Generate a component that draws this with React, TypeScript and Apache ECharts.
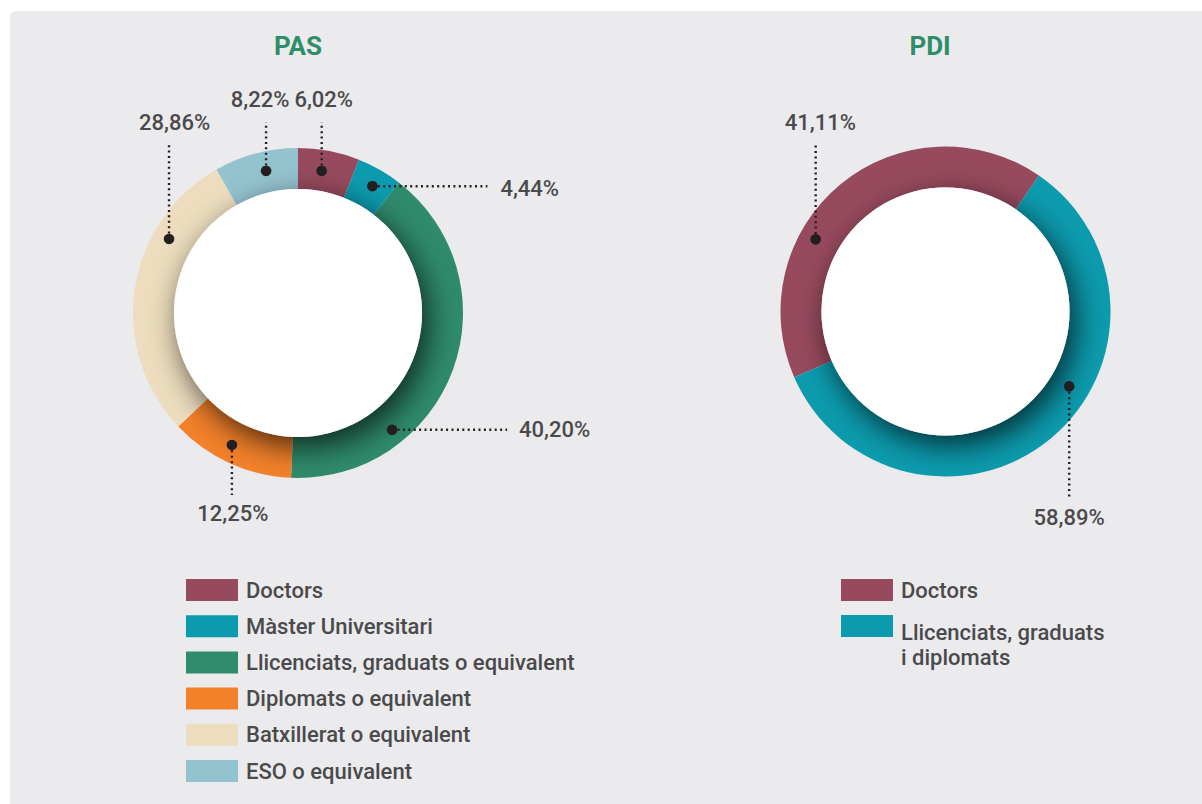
import React, { useEffect, useRef } from 'react';
import * as echarts from 'echarts';

// ---------- data ----------
const pasCategories = [
  'Doctors',
  'Màster Universitari',
  'Llicenciats, graduats o equivalent',
  'Diplomats o equivalent',
  'Batxillerat o equivalent',
  'ESO o equivalent',
];
const pasValues = [6.02, 4.44, 40.2, 12.25, 28.86, 8.22];

const pdiCategories = ['Doctors', 'Llicenciats, graduats i diplomats'];
const pdiValues = [41.11, 58.89];
const pdiLegendLines = ['Llicenciats, graduats', 'i diplomats'];

const titles = ['PAS', 'PDI'];

// ---------- styles ----------
const pasColors = ['#974A5E', '#0C9BAE', '#2F8B6C', '#F3812A', '#EDDDBE', '#94C3D0'];
const pdiColors = ['#974A5E', '#0C9BAE'];
const TEXT = '#4A4A4C';
const GREEN = '#2E8E6A';
const DOT = '#231F20';
const FONT = 'Roboto, "Noto Sans", sans-serif';

type Dir = 'up' | 'down' | 'right';
type Leader = { frac: number; r: number; dir: Dir; len: number; tdx: number; tdy: number };

const pasLeaders: Leader[] = [
  { frac: 0.437, r: 144, dir: 'up', len: 49, tdx: 2, tdy: -22 },
  { frac: 0.546, r: 147, dir: 'right', len: 115, tdx: 13, tdy: 2 },
  { frac: 0.715, r: 150, dir: 'right', len: 115, tdx: 12, tdy: 0 },
  { frac: 0.549, r: 147.6, dir: 'down', len: 50, tdx: 1, tdy: 19 },
  { frac: 0.706, r: 148.7, dir: 'up', len: 94, tdx: 5.5, tdy: -22 },
  { frac: 0.572, r: 145.6, dir: 'up', len: 49, tdx: -6, tdy: -22 },
];
const pdiLeaders: Leader[] = [
  { frac: 0.355, r: 148.5, dir: 'up', len: 94, tdx: 4.6, tdy: -22.6 },
  { frac: 0.409, r: 144.6, dir: 'down', len: 113, tdx: 0, tdy: 18 },
];

const PAS_CENTER: [number, number] = [298, 313];
const PDI_CENTER: [number, number] = [945.5, 311.5];
const RADIUS: [number, number] = [124, 165];
const PAS_START = 90;
const PDI_START = 203.5;

const fmt = (v: number) => v.toFixed(2).replace('.', ',') + '%';

function leaderGraphics(
  values: number[],
  leaders: Leader[],
  center: [number, number],
  startAngle: number
) {
  const total = values.reduce((a, b) => a + b, 0);
  const theta0 = 90 - startAngle; // clockwise from top
  const out: any[] = [];
  let acc = 0;
  values.forEach((v, i) => {
    const span = (v / total) * 360;
    const L = leaders[i];
    const th = ((theta0 + acc + L.frac * span) * Math.PI) / 180;
    acc += span;
    const x = center[0] + L.r * Math.sin(th);
    const y = center[1] - L.r * Math.cos(th);
    let ex = x;
    let ey = y;
    if (L.dir === 'up') ey = y - L.len;
    else if (L.dir === 'down') ey = y + L.len;
    else ex = x + L.len;
    out.push({
      type: 'line',
      z: 20,
      silent: true,
      shape: { x1: x, y1: y, x2: ex, y2: ey },
      style: { stroke: DOT, lineWidth: 2.4, lineDash: [2, 3.4] },
    });
    out.push({
      type: 'circle',
      z: 21,
      silent: true,
      shape: { cx: x, cy: y, r: 5.3 },
      style: { fill: DOT },
    });
    out.push({
      type: 'text',
      z: 21,
      silent: true,
      x: ex + L.tdx,
      y: ey + L.tdy,
      style: {
        text: fmt(v),
        fill: TEXT,
        font: `500 22px ${FONT}`,
        textAlign: L.dir === 'right' ? 'left' : 'center',
        textVerticalAlign: 'middle',
      },
    });
  });
  return out;
}

function ringSeries(
  cats: string[],
  values: number[],
  colors: string[],
  center: [number, number],
  startAngle: number
) {
  return {
    type: 'pie',
    center,
    radius: RADIUS,
    startAngle,
    clockwise: true,
    silent: true,
    z: 2,
    avoidLabelOverlap: false,
    label: { show: false },
    labelLine: { show: false },
    emphasis: { disabled: true },
    data: cats.map((c, i) => ({
      name: c,
      value: values[i],
      itemStyle: { color: colors[i], borderWidth: 0 },
    })),
  };
}

function diskSeries(center: [number, number]) {
  return {
    type: 'pie',
    center,
    radius: [0, RADIUS[0]],
    silent: true,
    z: 3,
    label: { show: false },
    labelLine: { show: false },
    emphasis: { disabled: true },
    data: [
      {
        name: '__disk',
        value: 1,
        itemStyle: {
          color: '#FFFFFF',
          shadowBlur: 30,
          shadowColor: 'rgba(0,0,0,0.7)',
          shadowOffsetX: 6,
          shadowOffsetY: 10,
        },
      },
    ],
  };
}

const legendText = { color: TEXT, fontSize: 22, fontWeight: 500, fontFamily: FONT, padding: [0, 0, 0, 3] };

export default function App() {
  const ref = useRef<HTMLDivElement>(null);
  useEffect(() => {
    if (!ref.current) return;
    const chart = echarts.init(ref.current, undefined, { renderer: 'svg' });
    const option: any = {
      animation: false,
      backgroundColor: '#FFFFFF',
      graphic: [
        {
          type: 'rect',
          z: -10,
          silent: true,
          shape: { x: 10, y: 11, width: 1210, height: 810, r: 6 },
          style: { fill: '#EBEBED' },
        },
        {
          type: 'text',
          z: 20,
          x: 298,
          y: 46,
          style: {
            text: titles[0],
            fill: GREEN,
            font: `bold 26px ${FONT}`,
            textAlign: 'center',
            textVerticalAlign: 'middle',
          },
        },
        {
          type: 'text',
          z: 20,
          x: 930,
          y: 46,
          style: {
            text: titles[1],
            fill: GREEN,
            font: `bold 26px ${FONT}`,
            textAlign: 'center',
            textVerticalAlign: 'middle',
          },
        },
        ...leaderGraphics(pasValues, pasLeaders, PAS_CENTER, PAS_START),
        ...leaderGraphics(pdiValues, pdiLeaders, PDI_CENTER, PDI_START),
      ],
      legend: [
        {
          data: pasCategories,
          left: 186,
          top: 579,
          orient: 'vertical',
          padding: 0,
          itemWidth: 52,
          itemHeight: 22,
          itemGap: 14.2,
          icon: 'rect',
          selectedMode: false,
          textStyle: legendText,
        },
        {
          data: [
            pdiCategories[0],
            {
              name: pdiCategories[1],
              textStyle: {
                ...legendText,
                padding: [0, 0, -37, 3],
                rich: {
                  t: {
                    color: TEXT,
                    fontSize: 22,
                    fontWeight: 500,
                    fontFamily: FONT,
                    lineHeight: 25,
                  },
                },
              },
            },
          ],
          left: 841,
          top: 579,
          orient: 'vertical',
          padding: 0,
          itemWidth: 52,
          itemHeight: 22,
          itemGap: 14,
          icon: 'rect',
          selectedMode: false,
          textStyle: legendText,
          formatter: (name: string) =>
            name === pdiCategories[1]
              ? pdiLegendLines.map((l) => `{t|${l}}`).join('\n')
              : name,
        },
      ],
      series: [
        ringSeries(pasCategories, pasValues, pasColors, PAS_CENTER, PAS_START),
        diskSeries(PAS_CENTER),
        ringSeries(pdiCategories, pdiValues, pdiColors, PDI_CENTER, PDI_START),
        diskSeries(PDI_CENTER),
      ],
    };
    chart.setOption(option);
    return () => chart.dispose();
  }, []);
  return (
    <div
      ref={ref}
      style={{ position: 'absolute', left: 0, top: 0, width: 1202, height: 804 }}
    />
  );
}
